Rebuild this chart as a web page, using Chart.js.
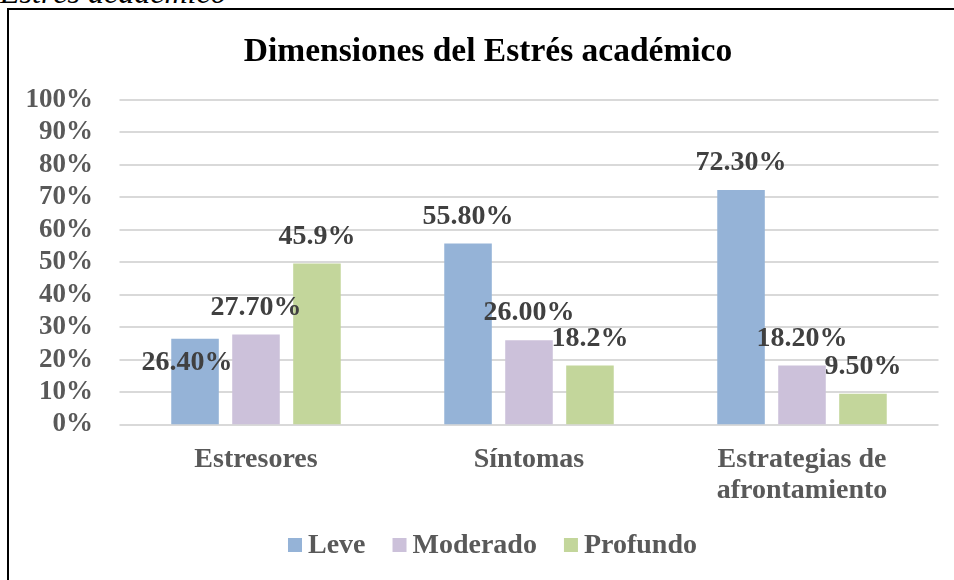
<!DOCTYPE html>
<html><head><meta charset="utf-8">
<script src="https://cdn.jsdelivr.net/npm/chart.js@4.4.1/dist/chart.umd.min.js"></script>
<style>
html,body{margin:0;padding:0;background:#fff;overflow:hidden;width:954px;height:580px;}
#cap{position:absolute;left:0;top:-24px;font:italic 32px 'Liberation Serif',serif;line-height:32px;white-space:nowrap;color:#000;}
#frame{position:absolute;left:7px;top:8px;width:1000px;height:600px;border-left:2px solid #000;border-top:2px solid #000;background:#fff;}
#wrap{position:absolute;left:9px;top:10px;width:958px;height:570px;}
</style></head><body>
<div id="cap">Estrés académico</div>
<div id="frame"></div>
<div id="wrap"><canvas id="c" width="958" height="570"></canvas></div>
<script>
// ---- data ----
const chartTitle = 'Dimensiones del Estrés académico';
const categories = [['Estresores'], ['Síntomas'], ['Estrategias de', 'afrontamiento']];
const seriesNames = ['Leve', 'Moderado', 'Profundo'];
const leve = [26.4, 55.8, 72.3];
const moderado = [27.7, 26.0, 18.2];
const profundo = [49.6, 18.2, 9.5];
const leveLabels = ['26.40%', '55.80%', '72.30%'];
const moderadoLabels = ['27.70%', '26.00%', '18.20%'];
const profundoLabels = ['45.9%', '18.2%', '9.50%'];
const yMin = 0, yMax = 100, yStep = 10;

// ---- styles ----
const colors = ['#95B3D7', '#CCC1DA', '#C3D69B'];
const serif = "'Liberation Serif', 'Times New Roman', serif";
const valueLabels = [leveLabels, moderadoLabels, profundoLabels];

const gridPlugin = {
  id: 'gridExt',
  beforeDatasetsDraw(chart) {
    const {ctx, chartArea, scales: {y}} = chart;
    ctx.save();
    ctx.strokeStyle = '#d9d9d9';
    ctx.lineWidth = 2;
    y.ticks.forEach(t => {
      const py = Math.round(y.getPixelForValue(t.value));
      ctx.beginPath();
      ctx.moveTo(chartArea.left, py);
      ctx.lineTo(chartArea.right, py);
      ctx.stroke();
    });
    ctx.restore();
  }
};

const valueLabelPlugin = {
  id: 'valueLabels',
  afterDatasetsDraw(chart) {
    const {ctx} = chart;
    ctx.save();
    ctx.font = 'bold 28px ' + serif;
    ctx.fillStyle = '#404040';
    ctx.textAlign = 'center';
    ctx.textBaseline = 'middle';
    chart.data.datasets.forEach((ds, di) => {
      const meta = chart.getDatasetMeta(di);
      meta.data.forEach((bar, i) => {
        let dx = 0, dy = -27;
        if (di === 0 && i === 0) { dx = -8; dy = 24; }
        ctx.fillText(valueLabels[di][i], bar.x + dx, bar.y + dy);
      });
    });
    ctx.restore();
  }
};

const textPlugin = {
  id: 'texts',
  afterDraw(chart) {
    const {ctx, chartArea, scales: {x}} = chart;
    const W = chart.width;
    // title
    ctx.save();
    ctx.font = 'bold 33.5px ' + serif;
    ctx.fillStyle = '#000';
    ctx.textAlign = 'center';
    ctx.textBaseline = 'alphabetic';
    ctx.fillText(chartTitle, W / 2, 51);
    ctx.restore();
    // category labels
    ctx.save();
    ctx.font = 'bold 28px ' + serif;
    ctx.fillStyle = '#595959';
    ctx.textAlign = 'center';
    ctx.textBaseline = 'alphabetic';
    chart.data.labels.forEach((lab, i) => {
      const px = x.getPixelForValue(i);
      const lines = Array.isArray(lab) ? lab : [lab];
      lines.forEach((ln, k) => ctx.fillText(ln, px, chartArea.bottom + 42.2 + k * 31.5));
    });
    ctx.restore();
    // legend
    ctx.save();
    ctx.font = 'bold 28px ' + serif;
    ctx.textBaseline = 'alphabetic';
    ctx.textAlign = 'left';
    const widths = seriesNames.map(n => ctx.measureText(n).width);
    const total = widths.reduce((a, w) => a + 14 + 6 + w, 0) + 27 * (seriesNames.length - 1);
    let lx = 483.5 - total / 2;
    seriesNames.forEach((n, i) => {
      ctx.fillStyle = colors[i];
      ctx.fillRect(lx, 528, 14, 14);
      ctx.fillStyle = '#595959';
      ctx.fillText(n, lx + 20, 543);
      lx += 20 + widths[i] + 27;
    });
    ctx.restore();
  }
};

new Chart(document.getElementById('c'), {
  type: 'bar',
  data: {
    labels: categories,
    datasets: seriesNames.map((n, i) => ({
      label: n,
      data: [leve, moderado, profundo][i],
      backgroundColor: colors[i],
      borderWidth: 0,
      categoryPercentage: 0.67,
      barPercentage: 0.78
    }))
  },
  options: {
    responsive: false,
    animation: false,
    events: [],
    layout: {padding: {top: 90, left: 0, right: 28.5, bottom: 155.5}},
    plugins: {legend: {display: false}, title: {display: false}, tooltip: {enabled: false}},
    scales: {
      x: {display: false},
      y: {
        min: yMin, max: yMax,
        grid: {display: false, drawTicks: false},
        border: {display: false},
        ticks: {
          stepSize: yStep,
          autoSkip: false,
          padding: 26.5,
          color: '#595959',
          font: {family: serif, size: 27, weight: 'bold'},
          callback: v => v + '%'
        },
        afterFit(s) { s.width = 110.5; }
      }
    }
  },
  plugins: [gridPlugin, valueLabelPlugin, textPlugin]
});
</script>
</body></html>
